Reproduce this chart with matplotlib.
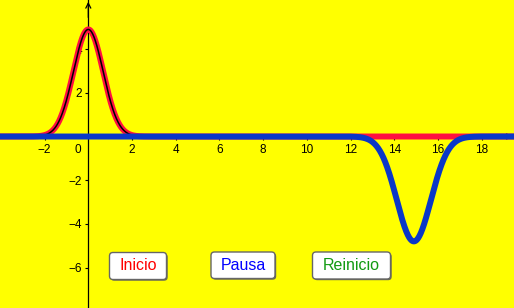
import numpy as np
import matplotlib
matplotlib.use("Agg")
import matplotlib.pyplot as plt
from matplotlib.patches import FancyBboxPatch

# ---- data ----
x_ticks = [-2, 2, 4, 6, 8, 10, 12, 14, 16, 18]
y_ticks = [-6, -4, -2, 2, 4]
red_center, red_height, red_width = 0.0, 4.9, 0.68        # pulse (Inicio)
blue_center, blue_height, blue_width = 14.9, -4.8, 0.78   # reflected pulse
black_range = (-3.0, 3.0)
buttons = ["Inicio", "Pausa", "Reinicio"]
button_colors = ["#ff0000", "#0000ff", "#129a12"]

x = np.linspace(-4.2, 19.8, 2400)
y_red = red_height * np.exp(-(x - red_center) ** 2 / (2 * red_width ** 2))
y_blue = blue_height * np.exp(-(x - blue_center) ** 2 / (2 * blue_width ** 2))
xb = np.linspace(black_range[0], black_range[1], 600)
y_black = red_height * np.exp(-(xb - red_center) ** 2 / (2 * red_width ** 2))

W, H = 514, 308
fig = plt.figure(figsize=(W / 100, H / 100), dpi=100)
fig.patch.set_facecolor("#ffff00")
ax = fig.add_axes([0, 0, 1, 1])
ax.set_facecolor("#ffff00")

ppu = 21.85
x0px, y0px = 88.3, 136.5
ax.set_xlim(-x0px / ppu, (W - x0px) / ppu)
ax.set_ylim(-(H - y0px) / ppu, y0px / ppu)

for s in ["top", "right"]:
    ax.spines[s].set_visible(False)
ax.spines["left"].set_position(("data", 0))
ax.spines["bottom"].set_position(("data", 0))
ax.spines["left"].set_linewidth(0.9)
ax.spines["bottom"].set_linewidth(0.9)

fam = ["Liberation Sans", "DejaVu Sans"]
ax.set_xticks(x_ticks)
ax.set_xticklabels([f"\u2212{-t}" if t < 0 else str(t) for t in x_ticks],
                   fontsize=8.5, family=fam)
ax.set_yticks(y_ticks)
ax.set_yticklabels([f"\u2212{-t}" if t < 0 else str(t) for t in y_ticks],
                   fontsize=8.5, family=fam)
ax.tick_params(axis="x", direction="out", length=2.5, width=0.8, pad=3.2)
ax.tick_params(axis="y", direction="out", length=2.5, width=0.8, pad=2)
ax.annotate("0", xy=(0, 0), xytext=(-10, -13), textcoords="offset pixels",
            fontsize=8.5, family=fam, ha="center", va="center")

# axis arrows
xl, yl = ax.get_xlim(), ax.get_ylim()
ax.annotate("", xy=(0, yl[1] - 0.08), xytext=(0, yl[1] - 0.8),
            arrowprops=dict(arrowstyle="->", lw=0.9, color="black",
                            mutation_scale=9, shrinkA=0, shrinkB=0))
ax.annotate("", xy=(xl[1] - 0.05, 0), xytext=(xl[1] - 0.8, 0),
            arrowprops=dict(arrowstyle="->", lw=0.9, color="black",
                            mutation_scale=9, shrinkA=0, shrinkB=0))

ax.plot(x, y_red, color="#ff1040", lw=4.3, zorder=4, solid_capstyle="butt")
ax.plot(xb, y_black, color="#000000", lw=1.1, zorder=5)
ax.plot(x, y_blue, color="#0a37c8", lw=4.3, zorder=6, solid_capstyle="butt")

# buttons (pixel coordinates, top-left origin)
boxes = [(109.5, 252.5, 57, 27), (211, 252, 64, 26.5), (312.5, 252, 78, 27)]
for (bx, by, bw, bh), label, col in zip(boxes, buttons, button_colors):
    yb = H - by - bh
    shadow = FancyBboxPatch((bx + 1.2, yb - 1.2), bw, bh,
                            boxstyle="round,pad=0,rounding_size=3.5",
                            transform=None, facecolor="#6a6a50",
                            edgecolor="none", zorder=10)
    fig.patches.append(shadow)
    box = FancyBboxPatch((bx, yb), bw, bh,
                         boxstyle="round,pad=0,rounding_size=3.5",
                         transform=None, facecolor="white",
                         edgecolor="#666666", lw=1.0, zorder=11)
    fig.patches.append(box)
    fig.text((bx + bw / 2) / W, 1 - (by + bh / 2) / H, label, color=col,
             fontsize=11.5, family=fam, ha="center", va="center", zorder=12)

fig.savefig("out.png", dpi=100, facecolor=fig.get_facecolor())
